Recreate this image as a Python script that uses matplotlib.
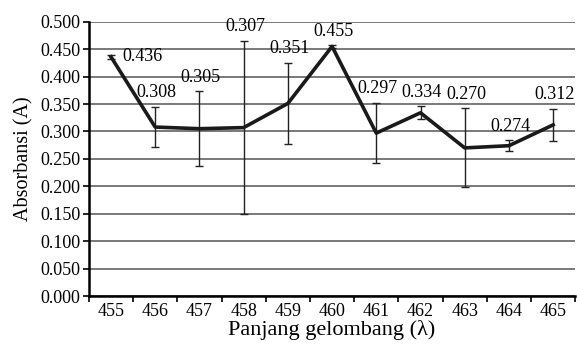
import numpy as np
import matplotlib.pyplot as plt

# Data
wavelengths = ['455', '456', '457', '458', '459', '460', '461', '462', '463', '464', '465']
absorbance = [0.436, 0.308, 0.305, 0.307, 0.351, 0.455, 0.297, 0.334, 0.270, 0.274, 0.312]
errors = [0.004, 0.037, 0.068, 0.158, 0.074, 0.002, 0.055, 0.012, 0.072, 0.010, 0.029]

plt.rcParams['font.family'] = ['Liberation Serif', 'DejaVu Serif']

fig = plt.figure(figsize=(5.77, 3.45), dpi=100)
ax = fig.add_axes([0.154, 0.142, 0.843, 0.795])

x = np.arange(len(wavelengths))

ax.errorbar(x, absorbance, yerr=errors, fmt='none', ecolor='#222222',
            elinewidth=1.0, capsize=3, capthick=1.0, zorder=3)
ax.plot(x, absorbance, color='#1a1a1a', linewidth=2.6, zorder=4)

# value labels
for i, (v, e) in enumerate(zip(absorbance, errors)):
    if i == 0:
        ax.annotate(f'{v:.3f}', (x[i], v), xytext=(8, 0), textcoords='offset points',
                    ha='left', va='center', fontsize=13)
    else:
        ax.annotate(f'{v:.3f}', (x[i], v + e), xytext=(1, 4), textcoords='offset points',
                    ha='center', va='bottom', fontsize=13)

ax.set_ylim(0, 0.5)
ax.set_xlim(-0.5, len(wavelengths) - 0.5)
ax.set_yticks(np.arange(0, 0.501, 0.05))
ax.set_yticklabels([f'{t:.3f}' for t in np.arange(0, 0.501, 0.05)])
ax.set_xticks(x)
ax.set_xticklabels(wavelengths)
ax.set_xticks(np.arange(-0.5, len(wavelengths)), minor=True)
ax.tick_params(axis='x', which='major', length=0, labelsize=13, pad=5)
ax.tick_params(axis='x', which='minor', length=4, width=1.2, direction='out')
ax.tick_params(axis='y', length=4, width=1.2, labelsize=13, pad=2)

ax.yaxis.grid(True, color='#555555', linewidth=1.1)
ax.set_axisbelow(True)
for s in ['top', 'right']:
    ax.spines[s].set_visible(False)
for s in ['left', 'bottom']:
    ax.spines[s].set_linewidth(1.8)

ax.set_ylabel('Absorbansi (A)', fontsize=14.5, labelpad=5)
ax.set_xlabel('Panjang gelombang (λ)', fontsize=16, labelpad=0)

fig.savefig('out.png', dpi=100)
